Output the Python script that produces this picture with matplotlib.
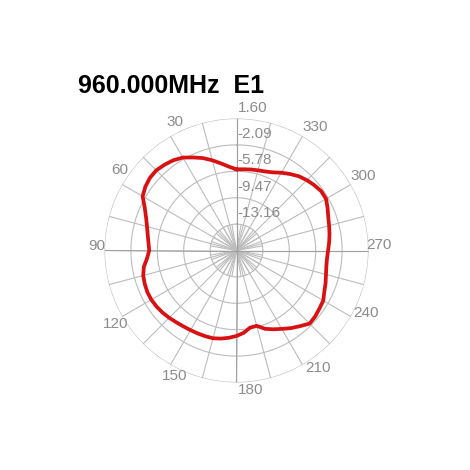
import numpy as np
import matplotlib
matplotlib.use("Agg")
import matplotlib.pyplot as plt

# ---- data ----
title = "960.000MHz  E1"
angles_deg = list(range(0, 360, 5))
gain_db = [-5.5, -5.1, -4.5, -3.8, -3.1, -2.5, -1.85, -1.45, -1.2, -1.0,
           -1.05, -1.3, -1.7, -2.7, -3.4, -3.9, -4.25, -4.5, -4.65, -4.3,
           -3.7, -3.35, -3.2, -3.1, -3.1, -3.2, -3.35, -3.55, -3.75, -3.9,
           -4.0, -4.05, -4.1, -4.15, -4.35, -4.6, -4.9, -5.3, -5.9, -5.95,
           -5.2, -4.7, -4.2, -3.6, -3.05, -2.4, -2.5, -2.7, -2.85, -3.3,
           -3.6, -3.9, -4.1, -4.15, -4.05, -3.85, -3.65, -3.45, -3.2, -2.8,
           -2.4, -2.4, -2.65, -2.95, -3.3, -3.8, -4.3, -4.8, -5.1, -5.25,
           -5.35, -5.45]
r_ticks = [-13.16, -9.47, -5.78, -2.09, 1.60]
r_tick_labels = ["-13.16", "-9.47", "-5.78", "-2.09", "1.60"]
r_min = -16.85
angle_tick_deg = [30, 60, 90, 120, 150, 180, 210, 240, 270, 300, 330]
angle_tick_labels = ["30", "60", "90", "120", "150", "180", "210", "240", "270", "300", "330"]

# ---- figure ----
W = 470
fig = plt.figure(figsize=(4.7, 4.7), dpi=100)
cx, cy, R = 236.5, 250.5, 132.0
ax = fig.add_axes([(cx - R) / W, (W - cy - R) / W, 2 * R / W, 2 * R / W], projection="polar")
ax.set_theta_zero_location("N")
ax.set_theta_direction(1)
ax.set_ylim(r_min, r_ticks[-1])
ax.axis("off")

grid_c = "#bcbcbc"
txt_c = "#8c8c8c"
lw = 0.8

# rings
tt = np.linspace(0, 2 * np.pi, 721)
for rv in r_ticks:
    ax.plot(tt, np.full_like(tt, rv), color=grid_c, lw=lw, zorder=1)
# spokes every 15 deg
for a in range(0, 360, 15):
    th = np.deg2rad(a)
    ax.plot([th, th], [r_min, r_ticks[-1]], color=grid_c, lw=lw, zorder=1)
# inner spokes every 10 deg
for a in range(0, 360, 10):
    th = np.deg2rad(a)
    ax.plot([th, th], [r_min, r_ticks[0]], color=grid_c, lw=lw, zorder=1)
# centre axes darker
for a in (0, 90, 180, 270):
    th = np.deg2rad(a)
    ax.plot([th, th], [r_min, r_ticks[-1]], color="#a0a0a0", lw=lw, zorder=1)

# pattern
th = np.deg2rad(np.array(angles_deg + [angles_deg[0]]))
rr = np.array(gain_db + [gain_db[0]])
ax.plot(th, rr, color="#d81212", lw=2.7, zorder=3, solid_joinstyle="round")

font = "Liberation Sans"
fs = 11
# radial labels
for rv, lab in zip(r_ticks, r_tick_labels):
    ax.annotate(lab, xy=(0, rv), xytext=(1, 11), textcoords="offset pixels",
                ha="left", va="center", color=txt_c, fontsize=fs, family=font, zorder=4)

# angle labels (offsets of label centre from spoke end, pixels)
offsets = {30: (4.5, 14.2), 60: (-2.2, 14.5), 90: (-8.2, 4.7), 120: (-6.9, -7.5),
           150: (4.2, -11.2), 180: (13.7, -7), 210: (15.8, -2.7), 240: (14.7, 3.2),
           270: (10.8, 5.5), 300: (12, 9), 330: (12.5, 9.5)}
for a, lab in zip(angle_tick_deg, angle_tick_labels):
    dx, dy = offsets[a]
    ax.annotate(lab, xy=(np.deg2rad(a), r_ticks[-1]), xytext=(dx, dy),
                textcoords="offset pixels", ha="center", va="center",
                color=txt_c, fontsize=fs, family=font, annotation_clip=False)

fig.text(78 / W, 1 - 93.3 / W, title, ha="left", va="baseline",
         fontsize=18, fontweight="bold", family=font, color="black")

fig.savefig("out.png", dpi=100, facecolor="white")
